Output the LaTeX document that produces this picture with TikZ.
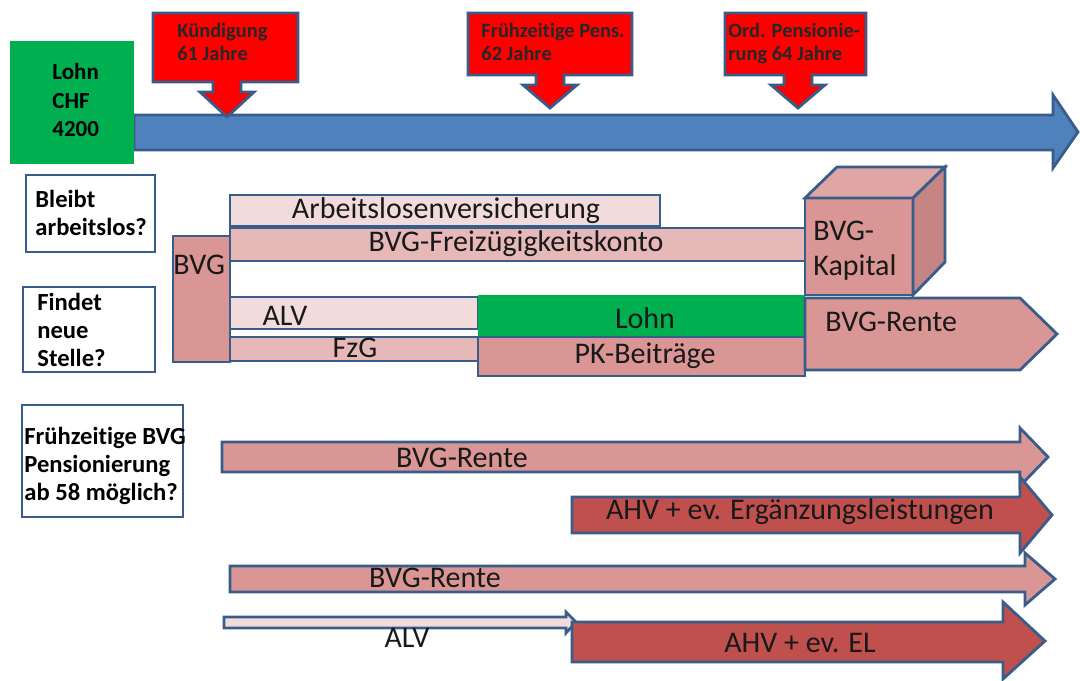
\documentclass[tikz,border=0pt]{standalone}
\usepackage{fontspec}
\setmainfont{Carlito}[Ligatures=NoCommon]
\definecolor{rahmen}{HTML}{385D8A}
\definecolor{zeitblau}{HTML}{4F81BD}
\definecolor{lohngruen}{HTML}{00B050}
\definecolor{rosahell}{HTML}{F2DCDB}
\definecolor{rosa}{HTML}{E6B9B8}
\definecolor{altrosa}{HTML}{D99694}
\definecolor{seite}{HTML}{C48584}
\definecolor{ahvrot}{HTML}{C0504D}
\tikzset{
  rand/.style={draw=rahmen, line width=1.4pt, line join=miter},
  txt/.style={inner sep=0pt, font=\fontsize{15}{17.5}\selectfont, text=black!90},
  frage/.style={inner sep=0pt, align=left, font=\bfseries\fontsize{12.3}{14}\selectfont},
  hinweis/.style={inner sep=0pt, align=left, text=black!85, font=\bfseries\fontsize{10.2}{11.5}\selectfont}
}
\begin{document}
\begin{tikzpicture}[x=0.5pt,y=-0.5pt]
\useasboundingbox (0,0) rectangle (1080,680);
\draw[rand, fill=zeitblau] (134,115) -- (1053,115) -- (1053,95) -- (1078,132) -- (1053,168) -- (1053,150) -- (134,150) -- cycle;
\fill[lohngruen] (10,41) rectangle (134,164);
\node[frage, font=\bfseries\fontsize{11.5}{14.25}\selectfont, anchor=north west] (lohnchf) at (52,63) {Lohn\\CHF\\4200};
\foreach \a/\b/\c/\m/\t/\tx/\n/\txt in {
  153/298/82/227/117/177/kuend/{Kündigung\\61 Jahre},
  468/632/75/550/108/481/fruehpens/{Frühzeitige Pens.\\62 Jahre},
  725/866/75/798/108/728/ordpens/{Ord. Pensionie-\\rung 64 Jahre}} {
  \draw[rand, fill=red] (\a,13) -- (\b,13) -- (\b,\c) -- (\m+14,\c) -- (\m+14,\c+10) -- (\m+27,\c+10)
    -- (\m,\t) -- (\m-27,\c+10) -- (\m-14,\c+10) -- (\m-14,\c) -- (\a,\c) -- cycle;
  \node[hinweis, anchor=north west] (\n) at (\tx,23) {\txt};
}
\draw[rand, fill=white] (26,175) rectangle (155,252);
\node[frage, anchor=north west] (bleibt) at (35,190) {Bleibt\\arbeitslos?};
\draw[rand, fill=white] (23,287) rectangle (155,372);
\node[frage, anchor=north west] (findet) at (37,293) {Findet\\neue\\Stelle?};
\draw[rand, fill=white] (22,405) rectangle (183,517);
\node[frage, anchor=north west] (fruehbvg) at (24,427) {Frühzeitige BVG\\Pensionierung\\ab 58 möglich?};
\draw[rand, fill=altrosa] (173,236) rectangle (230,362);
\node[txt, anchor=west] (bvg) at (173,265) {BVG};
\draw[rand, fill=rosahell] (230,195) rectangle (660,226);
\node[txt] (alversich) at (446,211) {Arbeitslosenversicherung};
\draw[rand, fill=rosa] (230,228) rectangle (805,261);
\node[txt] (fzkonto) at (516,244) {BVG-Freizügigkeitskonto};
\draw[rand, fill=rosahell] (230,297) rectangle (478,329);
\node[txt] (alv) at (285,316) {ALV};
\draw[rand, fill=rosa] (230,337) rectangle (478,361);
\node[txt] (fzg) at (355,348) {FzG};
\fill[lohngruen] (478,295) rectangle (805,337);
\node[txt] (lohn) at (645,318) {Lohn};
\draw[rand, fill=altrosa] (478,337) rectangle (805,376);
\node[txt] (pkbeitr) at (645,356) {PK-Beiträge};
\draw[rand, fill=altrosa] (805,198) rectangle (913,295);
\draw[rand, fill=altrosa!85!white] (805,198) -- (837,167) -- (945,167) -- (913,198) -- cycle;
\draw[rand, fill=seite] (913,198) -- (945,167) -- (945,262) -- (913,295) -- cycle;
\node[txt, align=left, font=\fontsize{15}{17.5}\selectfont, anchor=north west] (kapital) at (813,221) {BVG-\\Kapital};
\draw[rand, fill=altrosa] (805,298) -- (1020,298) -- (1057,334) -- (1020,370) -- (805,370) -- cycle;
\node[txt, anchor=west] (bvgrente) at (825,322) {BVG-Rente};
\draw[rand, fill=altrosa] (222,442) -- (1020,442) -- (1020,428) -- (1048,457) -- (1020,486) -- (1020,472) -- (222,472) -- cycle;
\node[txt] (rente1) at (462,458) {BVG-Rente};
\draw[rand, fill=ahvrot] (572,497) -- (1020,497) -- (1020,477) -- (1052,515) -- (1020,553) -- (1020,533) -- (572,533) -- cycle;
\node[txt] (ahv1) at (800,512) {AHV + ev. Ergänzungsleistungen};
\draw[rand, fill=altrosa] (230,566) -- (1025,566) -- (1025,553) -- (1055,579) -- (1025,605) -- (1025,592) -- (230,592) -- cycle;
\node[txt] (rente2) at (435,578) {BVG-Rente};
\draw[rand, fill=rosahell] (224,617) -- (566,617) -- (566,612) -- (576,622) -- (566,633) -- (566,628) -- (224,628) -- cycle;
\node[txt] (alv2) at (407,638) {ALV};
\draw[rand, fill=ahvrot] (572,622) -- (1003,622) -- (1003,602) -- (1045,641) -- (1003,679) -- (1003,662) -- (572,662) -- cycle;
\node[txt] (ahv2) at (800,643) {AHV + ev. EL};
\end{tikzpicture}
\end{document}
